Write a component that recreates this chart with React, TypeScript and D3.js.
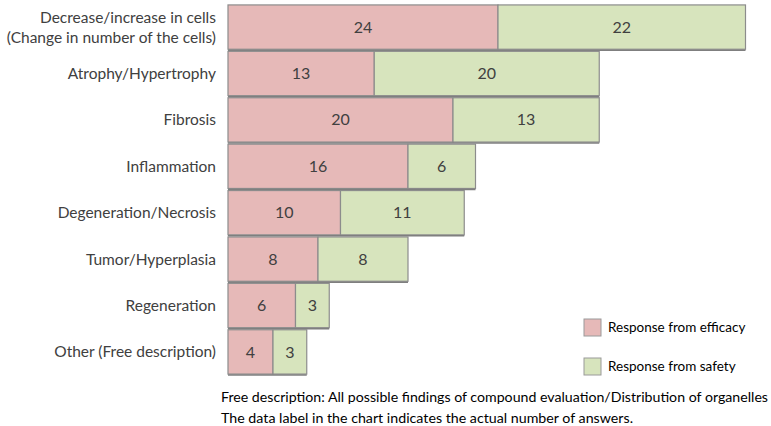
import React from "react";
import * as d3 from "d3";

const categories = [
  "Decrease/increase in cells|(Change in number of the cells)",
  "Atrophy/Hypertrophy",
  "Fibrosis",
  "Inflammation",
  "Degeneration/Necrosis",
  "Tumor/Hyperplasia",
  "Regeneration",
  "Other (Free description)",
];
const efficacy = [24, 13, 20, 16, 10, 8, 6, 4];
const safety = [22, 20, 13, 6, 11, 8, 3, 3];
const seriesNames = ["Response from efficacy", "Response from safety"];
const colors = ["#E6B9B8", "#D7E4BD"];
const footnotes = [
  "Free description: All possible findings of compound evaluation/Distribution of organelles",
  "The data label in the chart indicates the actual number of answers.",
];
const footnoteWidths = [547, 412];

const W = 771;
const H = 426;
const FONT = "Lato, 'Open Sans', sans-serif";

export default function App() {
  const x = d3.scaleLinear().domain([0, 46]).range([228, 745.5]);
  const y = d3
    .scaleBand<number>()
    .domain(d3.range(categories.length))
    .range([4, 375])
    .paddingInner(0.045)
    .paddingOuter(0.02);

  const rows = categories.map((c, i) => ({
    label: c.split("|"),
    segs: [
      { s: 0, v: efficacy[i], x0: 0, x1: efficacy[i] },
      { s: 1, v: safety[i], x0: efficacy[i], x1: efficacy[i] + safety[i] },
    ],
  }));

  return (
    <svg
      width={W}
      height={H}
      style={{ position: "absolute", left: 0, top: 0, background: "#fff" }}
      fontFamily={FONT}
    >
      {rows.map((r, i) => {
        const y0 = y(i)!;
        const bh = y.bandwidth();
        const cy = y0 + bh / 2;
        return (
          <g key={i}>
            {r.segs.map((sg) => (
              <g key={sg.s}>
                <rect
                  x={x(sg.x0)}
                  y={y0}
                  width={x(sg.x1) - x(sg.x0)}
                  height={bh}
                  fill={colors[sg.s]}
                  stroke="#8c8c8c"
                  strokeWidth={1.2}
                />
                <text
                  x={(x(sg.x0) + x(sg.x1)) / 2}
                  y={cy}
                  dy="0.35em"
                  textAnchor="middle"
                  fontSize={16}
                  fill="#404040"
                >
                  {sg.v}
                </text>
              </g>
            ))}
            <line
              x1={x(0)}
              x2={x(r.segs[1].x1)}
              y1={y0 + bh + 1}
              y2={y0 + bh + 1}
              stroke="#7f7f7f"
              strokeWidth={1.5}
            />
            {r.label.length === 1 ? (
              <text x={216} y={cy} dy="0.35em" textAnchor="end" fontSize={15.5} fill="#404040">
                {r.label[0]}
              </text>
            ) : (
              <text x={216} y={cy} textAnchor="end" fontSize={15.5} fill="#404040">
                <tspan x={216} dy="-0.25em">{r.label[0]}</tspan>
                <tspan x={216} dy="1.3em">{r.label[1]}</tspan>
              </text>
            )}
          </g>
        );
      })}
      {seriesNames.map((n, i) => (
        <g key={n} transform={`translate(584, ${319 + i * 39})`}>
          <rect width={17} height={17} fill={colors[i]} stroke="#9a9a9a" />
          <text x={24} y={8.5} dy="0.35em" fontSize={13.5} fill="#000">
            {n}
          </text>
        </g>
      ))}
      {footnotes.map((f, i) => (
        <text
          key={i}
          x={221}
          y={402 + i * 21}
          fontSize={14}
          fill="#000"
          textLength={footnoteWidths[i]}
          lengthAdjust="spacingAndGlyphs"
        >
          {f}
        </text>
      ))}
    </svg>
  );
}
